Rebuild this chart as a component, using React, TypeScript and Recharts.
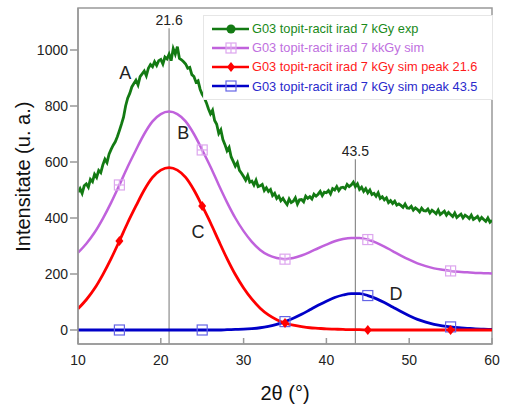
import React from 'react';
import {
  LineChart,
  Line,
  XAxis,
  YAxis,
  Legend,
  Label,
  ReferenceLine,
  ReferenceDot,
  ReferenceArea,
} from 'recharts';

const FONT = "Arial, 'Liberation Sans', sans-serif";
const AXIS = '#999';

// measured pattern (2theta from 10 to 60, every 0.25 deg)
const expStart = 10;
const expStep = 0.25;
const expValues = [
  492, 505, 488, 515,
  522, 510, 538, 530,
  556, 545, 570, 562,
  590, 610, 598, 628,
  645, 660, 672, 690,
  712, 735, 760, 800,
  828, 845, 868, 880,
  892, 875, 905, 915,
  925, 908, 935, 948,
  940, 958, 945, 962,
  966, 950, 975, 968,
  985, 962, 1005, 985,
  1012, 970, 965, 958,
  950, 935, 938, 912,
  905, 885, 890, 860,
  842, 830, 812, 790,
  772, 785, 748, 735,
  702, 715, 680, 662,
  640, 652, 618, 602,
  585, 598, 570, 560,
  548, 535, 552, 528,
  532, 518, 535, 512,
  515, 520, 498, 508,
  495, 502, 480, 488,
  470, 478, 462, 470,
  458, 448, 468, 455,
  460, 472, 450, 465,
  466, 458, 478, 470,
  476, 468, 485, 478,
  485, 495, 480, 492,
  490, 498, 486, 505,
  500, 512, 498, 508,
  510, 505, 520, 512,
  518, 528, 512, 522,
  502, 510, 495, 505,
  490, 500, 484, 488,
  478, 490, 470, 476,
  465, 472, 455, 462,
  452, 460, 446, 450,
  445, 438, 450, 436,
  435, 442, 428, 436,
  430, 422, 435, 426,
  425, 432, 418, 428,
  422, 415, 428, 412,
  418, 424, 410, 420,
  412, 405, 418, 402,
  408, 414, 400, 410,
  405, 398, 410, 395,
  400, 406, 392, 402,
  395, 388, 400, 385,
  392,
];

// simulated curves, 2theta 10..60
const simTheta = [
  10, 11, 12, 13, 14, 15, 16, 17, 18, 19, 20, 21, 22, 23, 24, 25, 26, 27, 28, 29,
  30, 31, 32, 33, 34, 35, 36, 37, 38, 39, 40, 41, 42, 43, 44, 45, 46, 47, 48, 49,
  50, 51, 52, 53, 54, 55, 56, 57, 58, 59, 60,
];
const simValues = [
  276, 308, 348, 398, 455, 518, 583, 643, 700, 745, 771, 780, 771, 745, 700, 643, 583, 518, 456, 400,
  353, 315, 286, 267, 257, 253, 257, 266, 278, 292, 305, 317, 325, 329, 329, 323, 312, 298, 282, 266,
  251, 238, 228, 220, 215, 211, 208, 206, 204, 203, 202,
];
const peak216Values = [
  76, 108, 148, 198, 255, 318, 383, 443, 500, 545, 571, 580, 571, 545, 500, 443, 383, 318, 255, 198,
  150, 110, 78, 54, 37, 25, 17, 12, 8, 6, 4, 3, 2, 1, 1, 0, 0, 0, 0, 0,
  0, 0, 0, 0, 0, 0, 0, 0, 0, 0, 0,
];
const peak435Values = [
  0, 0, 0, 0, 0, 0, 0, 0, 0, 0, 0, 0, 0, 0, 0, 0, 0, 0, 1, 2,
  3, 5, 8, 13, 20, 30, 42, 56, 72, 88, 103, 116, 125, 130, 130, 123, 112, 98, 82, 66,
  51, 38, 28, 20, 15, 11, 8, 6, 4, 3, 2,
];
const markerTheta = [15, 25, 35, 45, 55];

const xTicks = [10, 20, 30, 40, 50, 60];
const yTicks = [0, 200, 400, 600, 800, 1000];

const peakLines = [
  { label: '21.6', x: 21, top: 1078 },
  { label: '43.5', x: 43.5, top: 610 },
];
const curveLetters = [
  { text: 'A', x: 15.7, y: 921 },
  { text: 'B', x: 22.7, y: 706 },
  { text: 'C', x: 24.5, y: 351 },
  { text: 'D', x: 48.4, y: 129 },
];

const COLORS = {
  exp: '#137a13',
  sim: '#c062dc',
  simMark: '#dda6ee',
  red: '#ff0000',
  blue: '#0000c8',
  blueMark: '#6464e6',
};

const legendItems = [
  { name: 'G03 topit-racit irad 7 kGy exp', color: COLORS.exp, text: '#1a8a1a', marker: 'circle' },
  { name: 'G03 topit-racit irad 7 kkGy sim', color: COLORS.sim, text: '#c070e0', marker: 'grid' },
  { name: 'G03 topit-racit irad 7 kGy sim peak 21.6', color: COLORS.red, text: '#ff1a1a', marker: 'diamond' },
  { name: 'G03 topit-racit irad 7 kGy sim peak 43.5', color: COLORS.blue, text: '#2a2acc', marker: 'square' },
];

const expData = expValues.map((v, i) => ({ x: expStart + i * expStep, y: v }));
const toSeries = (vals: number[]) => simTheta.map((t, i) => ({ x: t, y: vals[i] }));
const simData = toSeries(simValues);
const peak216Data = toSeries(peak216Values);
const peak435Data = toSeries(peak435Values);

const Marker = ({ kind, cx, cy }: { kind: string; cx: number; cy: number }) => {
  if (kind === 'circle') return <circle cx={cx} cy={cy} r={4.5} fill={COLORS.exp} />;
  if (kind === 'grid')
    return (
      <g stroke={COLORS.simMark} strokeWidth={1.2} fill="none">
        <rect x={cx - 5} y={cy - 5} width={10} height={10} />
        <line x1={cx} x2={cx} y1={cy - 5} y2={cy + 5} />
        <line x1={cx - 5} x2={cx + 5} y1={cy} y2={cy} />
      </g>
    );
  if (kind === 'diamond')
    return (
      <polygon
        points={`${cx},${cy - 5} ${cx + 4},${cy} ${cx},${cy + 5} ${cx - 4},${cy}`}
        fill={COLORS.red}
      />
    );
  return (
    <rect x={cx - 5} y={cy - 5} width={10} height={10} fill="none" stroke={COLORS.blueMark} strokeWidth={1.2} />
  );
};

const markerDot = (kind: string) => (props: any) => {
  const { cx, cy, payload, index } = props;
  if (!markerTheta.includes(payload.x)) return <g key={`m-${kind}-${index}`} />;
  return (
    <g key={`m-${kind}-${index}`}>
      <Marker kind={kind} cx={cx} cy={cy} />
    </g>
  );
};

const XTick = ({ x, y, payload }: any) => (
  <g>
    <line x1={x} x2={x} y1={y} y2={y - 6} stroke={AXIS} strokeWidth={1.5} />
    <text x={x} y={y + 21} textAnchor="middle" fontSize={14} fill="#222" fontFamily={FONT}>
      {payload.value}
    </text>
  </g>
);

const LegendBox = () => (
  <div
    style={{
      border: '1px solid #e6e6e6',
      background: '#fff',
      padding: '3px 0 3px 8px',
      fontFamily: FONT,
      fontSize: 12.8,
      boxSizing: 'border-box',
    }}
  >
    {legendItems.map((it) => (
      <div key={it.name} style={{ display: 'flex', alignItems: 'center', height: 19.2 }}>
        <svg width={38} height={12} style={{ marginRight: 2, flex: 'none' }}>
          <line x1={0} x2={37} y1={6} y2={6} stroke={it.color} strokeWidth={2.5} />
          <Marker kind={it.marker} cx={19} cy={6} />
        </svg>
        <span style={{ color: it.text, whiteSpace: 'nowrap' }}>{it.name}</span>
      </div>
    ))}
  </div>
);

export default function App() {
  return (
    <div style={{ position: 'absolute', left: 0, top: 0, width: 506, height: 411, background: '#fff' }}>
      <LineChart
        width={506}
        height={411}
        margin={{ top: 8, right: 14, bottom: 11, left: 28 }}
        style={{ fontFamily: FONT }}
      >
        <ReferenceArea x1={10} x2={60} y1={-50} y2={1150} fill="none" stroke={AXIS} strokeWidth={1.5} />
        <XAxis
          dataKey="x"
          type="number"
          domain={[10, 60]}
          ticks={xTicks}
          allowDataOverflow
          height={56}
          tickSize={0}
          tickMargin={0}
          tickLine={false}
          tick={<XTick />}
          stroke={AXIS}
          strokeWidth={1.5}
        >
          <Label position="insideBottom" offset={0} fontSize={20} fill="#111" fontFamily={FONT} value="2θ (°)" />
        </XAxis>
        <YAxis
          type="number"
          domain={[-50, 1150]}
          ticks={yTicks}
          allowDataOverflow
          width={50}
          tickSize={8}
          tickMargin={2}
          stroke={AXIS}
          strokeWidth={1.5}
          tick={{ fontSize: 14, fill: '#222', fontFamily: FONT }}
          tickLine={{ stroke: AXIS, strokeWidth: 1.5 }}
        >
          <Label
            position="center"
            angle={-90}
            dx={-29.7}
            dy={0.7}
            fontSize={20}
            fill="#111"
            fontFamily={FONT}
            value="Intensitate (u. a.)"
          />
        </YAxis>
        {peakLines.map((p) => (
          <ReferenceLine
            key={p.label}
            segment={[
              { x: p.x, y: p.top },
              { x: p.x, y: -50 },
            ]}
            stroke="#8c8c8c"
            strokeWidth={1.2}
            label={{ value: p.label, position: 'top', offset: 3, fontSize: 14, fill: '#222', fontFamily: FONT }}
          />
        ))}
        <Line
          data={expData}
          dataKey="y"
          type="linear"
          stroke={COLORS.exp}
          strokeWidth={2.8}
          dot={false}
          isAnimationActive={false}
          name={legendItems[0].name}
        />
        <Line
          data={simData}
          dataKey="y"
          type="monotone"
          stroke={COLORS.sim}
          strokeWidth={2.5}
          dot={markerDot('grid')}
          isAnimationActive={false}
          name={legendItems[1].name}
        />
        <Line
          data={peak435Data}
          dataKey="y"
          type="monotone"
          stroke={COLORS.blue}
          strokeWidth={2.8}
          dot={markerDot('square')}
          isAnimationActive={false}
          name={legendItems[3].name}
        />
        <Line
          data={peak216Data}
          dataKey="y"
          type="monotone"
          stroke={COLORS.red}
          strokeWidth={2.8}
          dot={markerDot('diamond')}
          isAnimationActive={false}
          name={legendItems[2].name}
        />
        {curveLetters.map((c) => (
          <ReferenceDot
            key={c.text}
            x={c.x}
            y={c.y}
            r={0}
            fill="none"
            stroke="none"
            label={{ value: c.text, position: 'center', fontSize: 18, fill: '#222', fontFamily: FONT }}
          />
        ))}
        <Legend
          layout="horizontal"
          verticalAlign="middle"
          align="center"
          content={<LegendBox />}
          wrapperStyle={{ position: 'absolute', left: 203, top: 15, width: 290, height: 'auto' }}
        />
      </LineChart>
    </div>
  );
}
